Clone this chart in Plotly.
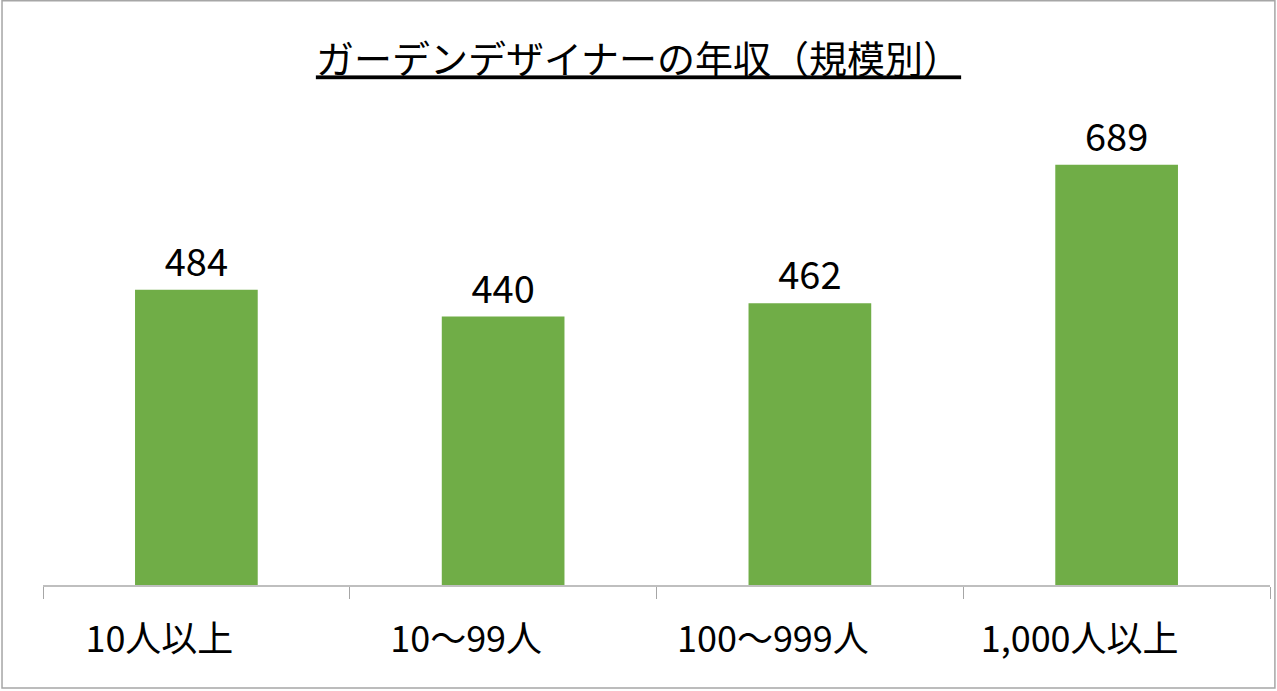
import plotly.graph_objects as go

# 企業規模別の年収（万円）
categories = ['10人以上', '10～99人', '100～999人', '1,000人以上']
salaries = [484, 440, 462, 689]

BAR_COLOR = '#70AD47'
FONT = 'Noto Sans CJK JP, Noto Sans, sans-serif'

fig = go.Figure()
fig.add_trace(go.Bar(
    x=categories,
    y=salaries,
    marker=dict(color=BAR_COLOR, line=dict(width=0)),
    text=[str(v) for v in salaries],
    textposition='outside',
    textfont=dict(size=38, color='black', family=FONT),
    cliponaxis=False,
))

fig.update_layout(
    width=1277, height=691,
    paper_bgcolor='white', plot_bgcolor='white',
    margin=dict(l=43, r=7, t=97, b=106),
    bargap=0.6,
    showlegend=False,
    title=dict(
        text='ガーデンデザイナーの年収（規模別）',
        x=0.5, xref='container', xanchor='center',
        y=0.913, yanchor='middle',
        font=dict(size=38, color='black', family=FONT, lineposition='under'),
    ),
    xaxis=dict(
        showline=True, linecolor='#BFBFBF', linewidth=2,
        ticks='outside', tickson='boundaries', ticklen=12, tickcolor='#A6A6A6', tickwidth=1,
        tickfont=dict(size=36, color='black', family=FONT),
        ticklabelstandoff=22, ticklabelshift=-37,
        showgrid=False,
    ),
    yaxis=dict(
        range=[0, 800], visible=False, showgrid=False, zeroline=False,
    ),
    shapes=[dict(
        type='rect', xref='paper', yref='paper',
        x0=-0.0334, x1=1.004, y0=-0.211, y1=1.197,
        line=dict(color='#A6A6A6', width=1.5), layer='below',
    )],
)

fig.write_html('out.html', config={'displayModeBar': False},
               post_script="document.body.style.margin='0';")
